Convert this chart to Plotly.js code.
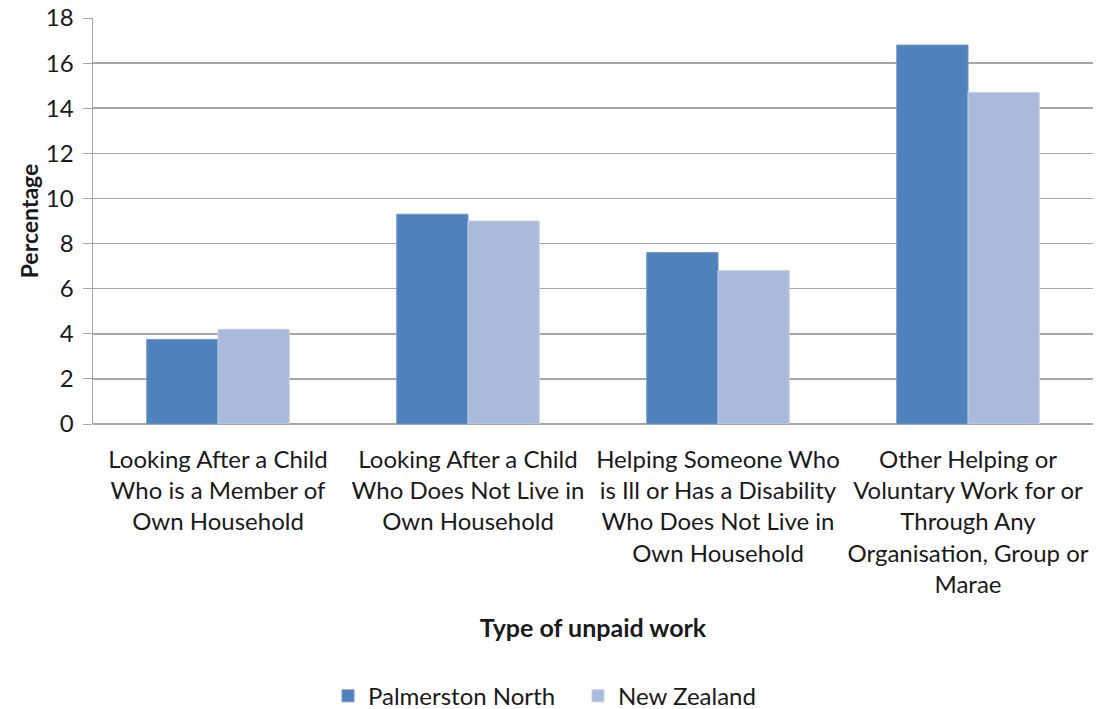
<!DOCTYPE html>
<html><head><meta charset="utf-8">
<script src="https://cdn.plot.ly/plotly-3.0.1.min.js"></script>
<style>html,body{margin:0;padding:0;background:#fff;}#chart{width:1096px;height:709px;}</style>
</head><body><div id="chart"></div>
<script>
const categories = [
  "Looking After a Child<br>Who is a Member of<br>Own Household",
  "Looking After a Child<br>Who Does Not Live in<br>Own Household",
  "Helping Someone Who<br>is Ill or Has a Disability<br>Who Does Not Live in<br>Own Household",
  "Other Helping or<br>Voluntary Work for or<br>Through Any<br>Organisation, Group or<br>Marae"
];
const palmerstonNorth = [3.75, 9.3, 7.6, 16.8];
const newZealand = [4.2, 9.0, 6.8, 14.7];
const yTicks = [0, 2, 4, 6, 8, 10, 12, 14, 16, 18];

const font = "Lato, 'Open Sans', sans-serif";
const traces = [
  {type: "bar", name: "Palmerston North", x: categories, y: palmerstonNorth,
   marker: {color: "#4F81BD", line: {color: "#6E97CB", width: 1}}},
  {type: "bar", name: "New Zealand", x: categories, y: newZealand,
   marker: {color: "#AABADA", line: {color: "#C3D0E8", width: 1}}}
];
const layout = {
  width: 1096, height: 709,
  margin: {l: 93, r: 3, t: 18, b: 285, autoexpand: false},
  paper_bgcolor: "#fff", plot_bgcolor: "#fff",
  font: {family: font, color: "#1a1a1a", size: 22},
  barmode: "group", bargap: 0.43, bargroupgap: 0,
  showlegend: true,
  legend: {orientation: "h", x: 0.485, xanchor: "center", xref: "paper",
           yref: "container", y: 0.018, yanchor: "middle",
           font: {size: 24}, itemwidth: 30, entrywidth: 205, traceorder: "normal"},
  xaxis: {
    type: "category", showgrid: false, zeroline: false,
    showline: false, ticks: "", tickfont: {size: 24}, tickangle: 0,
    ticklabelstandoff: 19, automargin: false,
    title: {text: "<b>Type of unpaid work</b>", font: {size: 25}, standoff: 22}
  },
  yaxis: {
    range: [0, 18], tickvals: yTicks, ticktext: yTicks.map(String),
    showgrid: true, gridcolor: "#A6A6A6", gridwidth: 1.5,
    zeroline: true, zerolinecolor: "#A6A6A6", zerolinewidth: 1.5,
    showline: true, linecolor: "#A6A6A6", linewidth: 1.5,
    ticks: "outside", ticklen: 9, tickcolor: "#A6A6A6",
    tickfont: {size: 24}, ticklabelstandoff: 4, automargin: false,
    title: {text: "<b>Percentage</b>", font: {size: 23}, standoff: 1}
  }
};
Plotly.newPlot("chart", traces, layout, {displayModeBar: false, staticPlot: true});
</script></body></html>
